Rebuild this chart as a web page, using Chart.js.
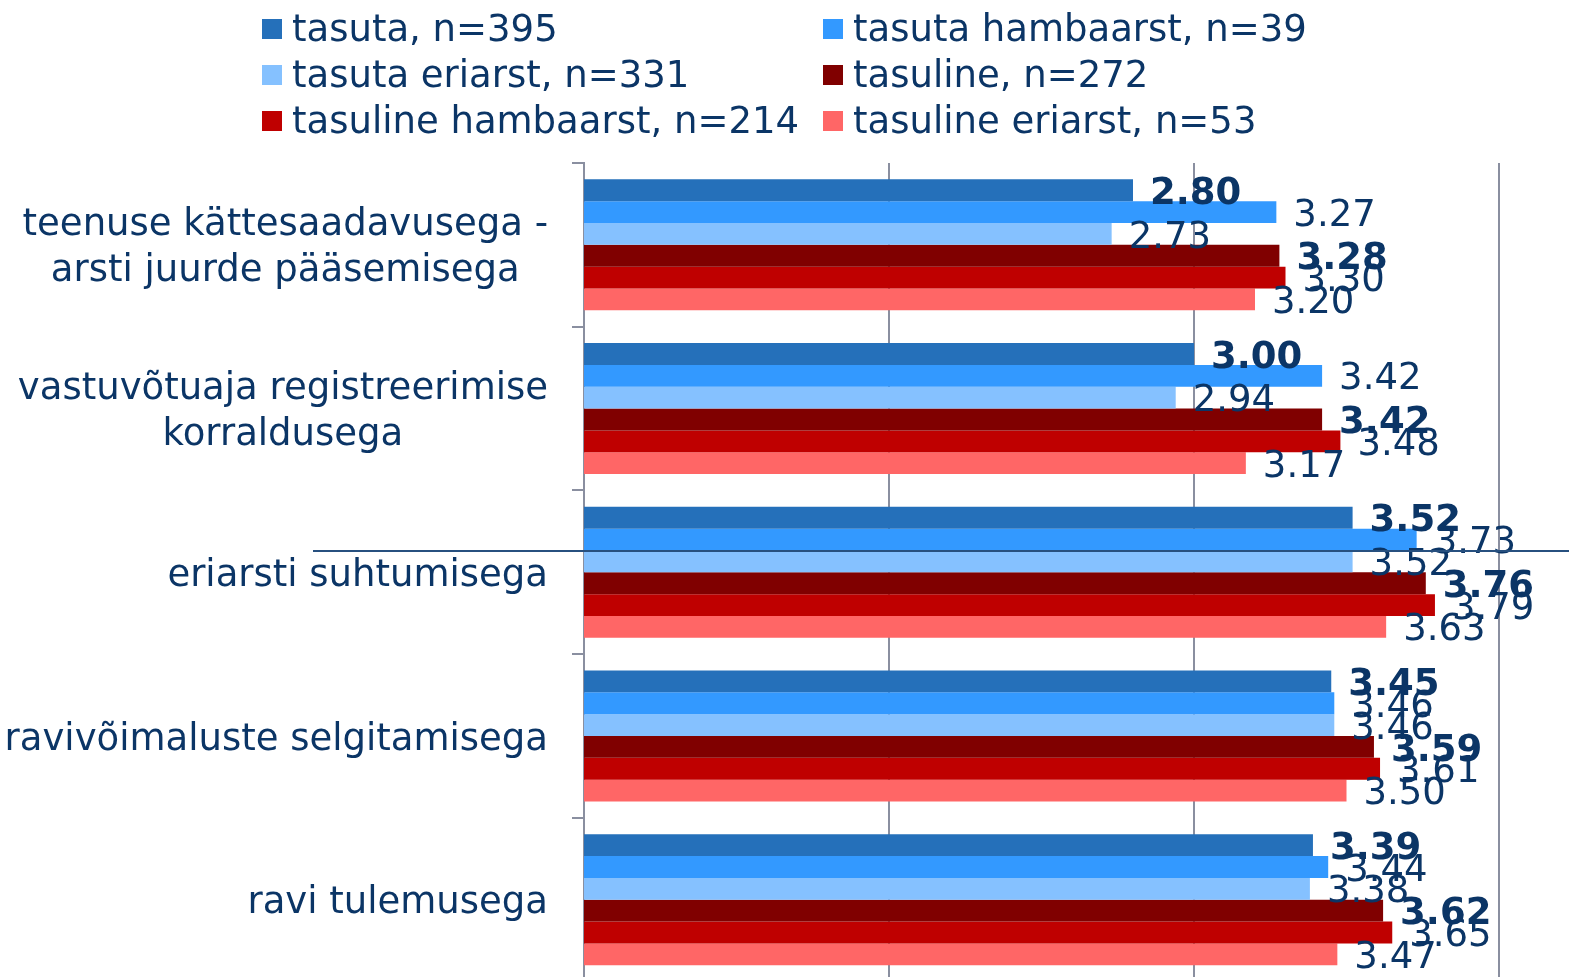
<!DOCTYPE html>
<html>
<head>
<meta charset="utf-8">
<script src="https://cdn.jsdelivr.net/npm/chart.js@4.4.1/dist/chart.umd.min.js"></script>
<style>
  body { margin: 0; overflow: hidden; background: #fff; }
  #wrap { position: relative; width: 1569px; height: 977px; overflow: hidden; }
  #chart { position: absolute; left: 0; top: 0; }
  #legend { position: absolute; left: 262px; top: 5px; display: grid; grid-template-columns: 561px auto;
            font: 37px "DejaVu Sans", Verdana, sans-serif; color: #0b3566; }
  .item { display: flex; align-items: center; height: 46px; white-space: nowrap; }
  .box { width: 20px; height: 20px; margin-right: 10px; margin-top: 2px; }
  #deco { position: absolute; left: 313px; top: 550px; width: 1256px; height: 2px; background: #27507f; }
</style>
</head>
<body>
<div id="wrap">
  <canvas id="chart" width="1830" height="1029"></canvas>
  <div id="legend"></div>
  <div id="deco"></div>
</div>
<script>
const categories = [
  ["teenuse kättesaadavusega -", "arsti juurde pääsemisega"],
  ["vastuvõtuaja registreerimise", "korraldusega"],
  "eriarsti suhtumisega",
  "ravivõimaluste selgitamisega",
  "ravi tulemusega"
]
const seriesNames = [
  "tasuta, n=395", "tasuta hambaarst, n=39", "tasuta eriarst, n=331",
  "tasuline, n=272", "tasuline hambaarst, n=214", "tasuline eriarst, n=53"
]
const seriesColors = ["#2570ba", "#3399ff", "#85c1ff", "#800000", "#bf0000", "#ff6666"]
const tasuta = [2.80, 3.00, 3.52, 3.45, 3.39]
const tasutaHambaarst = [3.27, 3.42, 3.73, 3.46, 3.44]
const tasutaEriarst = [2.73, 2.94, 3.52, 3.46, 3.38]
const tasuline = [3.28, 3.42, 3.76, 3.59, 3.62]
const tasulineHambaarst = [3.30, 3.48, 3.79, 3.61, 3.65]
const tasulineEriarst = [3.20, 3.17, 3.63, 3.50, 3.47]
const seriesValues = [tasuta, tasutaHambaarst, tasutaEriarst, tasuline, tasulineHambaarst, tasulineEriarst]
const boldSeries = [0, 3]
const xTicks = [1, 2, 3, 4, 5]

const textColor = "#0b3566"
const gridColor = "#8a8fa0"
const fontFamily = '"DejaVu Sans", Verdana, sans-serif'

// value labels at bar ends + centred category labels
const labelPlugin = {
  id: "labels",
  afterDatasetsDraw(chart) {
    const ctx = chart.ctx
    ctx.save()
    ctx.fillStyle = textColor
    ctx.textBaseline = "middle"
    ctx.textAlign = "left"
    chart.data.datasets.forEach((ds, i) => {
      ctx.font = (boldSeries.includes(i) ? "bold " : "") + "37px " + fontFamily
      chart.getDatasetMeta(i).data.forEach((bar, j) => {
        ctx.fillText(ds.data[j].toFixed(2), bar.x + 17, bar.y + 4)
      })
    })
    const ys = chart.scales.y
    ctx.font = "37px " + fontFamily
    ctx.textAlign = "center"
    categories.forEach((cat, i) => {
      const lines = Array.isArray(cat) ? cat : [cat]
      const w = Math.max(...lines.map(l => ctx.measureText(l).width))
      const cx = ys.right - 36 - w / 2
      const cy = ys.getPixelForValue(i)
      lines.forEach((l, k) => ctx.fillText(l, cx, cy + (k - (lines.length - 1) / 2) * 46 + 4))
    })
    ctx.restore()
  }
}

const chart = new Chart(document.getElementById("chart"), {
  type: "bar",
  data: {
    labels: categories,
    datasets: seriesValues.map((vals, i) => ({
      label: seriesNames[i],
      data: vals,
      backgroundColor: seriesColors[i],
      borderWidth: 0,
      categoryPercentage: 0.8,
      barPercentage: 1.0
    }))
  },
  options: {
    indexAxis: "y",
    responsive: false,
    animation: false,
    devicePixelRatio: 1,
    layout: { padding: { top: 163, bottom: 19, right: 26, left: 0 } },
    plugins: { legend: { display: false }, tooltip: { enabled: false } },
    scales: {
      x: {
        min: xTicks[0], max: xTicks[xTicks.length - 1],
        ticks: { display: false, stepSize: 1 },
        grid: { color: gridColor, lineWidth: 2, drawTicks: false },
        border: { display: false }
      },
      y: {
        grid: { drawOnChartArea: false, tickLength: 12, color: gridColor, lineWidth: 2, offset: true },
        border: { color: gridColor, width: 2 },
        ticks: { color: "rgba(0,0,0,0)", font: { size: 37 } },
        afterFit: s => { s.width = 584 }
      }
    }
  },
  plugins: [labelPlugin]
})

// legend laid out in two columns like the original
const legend = document.getElementById("legend")
chart.data.datasets.forEach(ds => {
  const item = document.createElement("div")
  item.className = "item"
  const box = document.createElement("span")
  box.className = "box"
  box.style.background = ds.backgroundColor
  item.appendChild(box)
  item.appendChild(document.createTextNode(ds.label))
  legend.appendChild(item)
})
</script>
</body>
</html>
